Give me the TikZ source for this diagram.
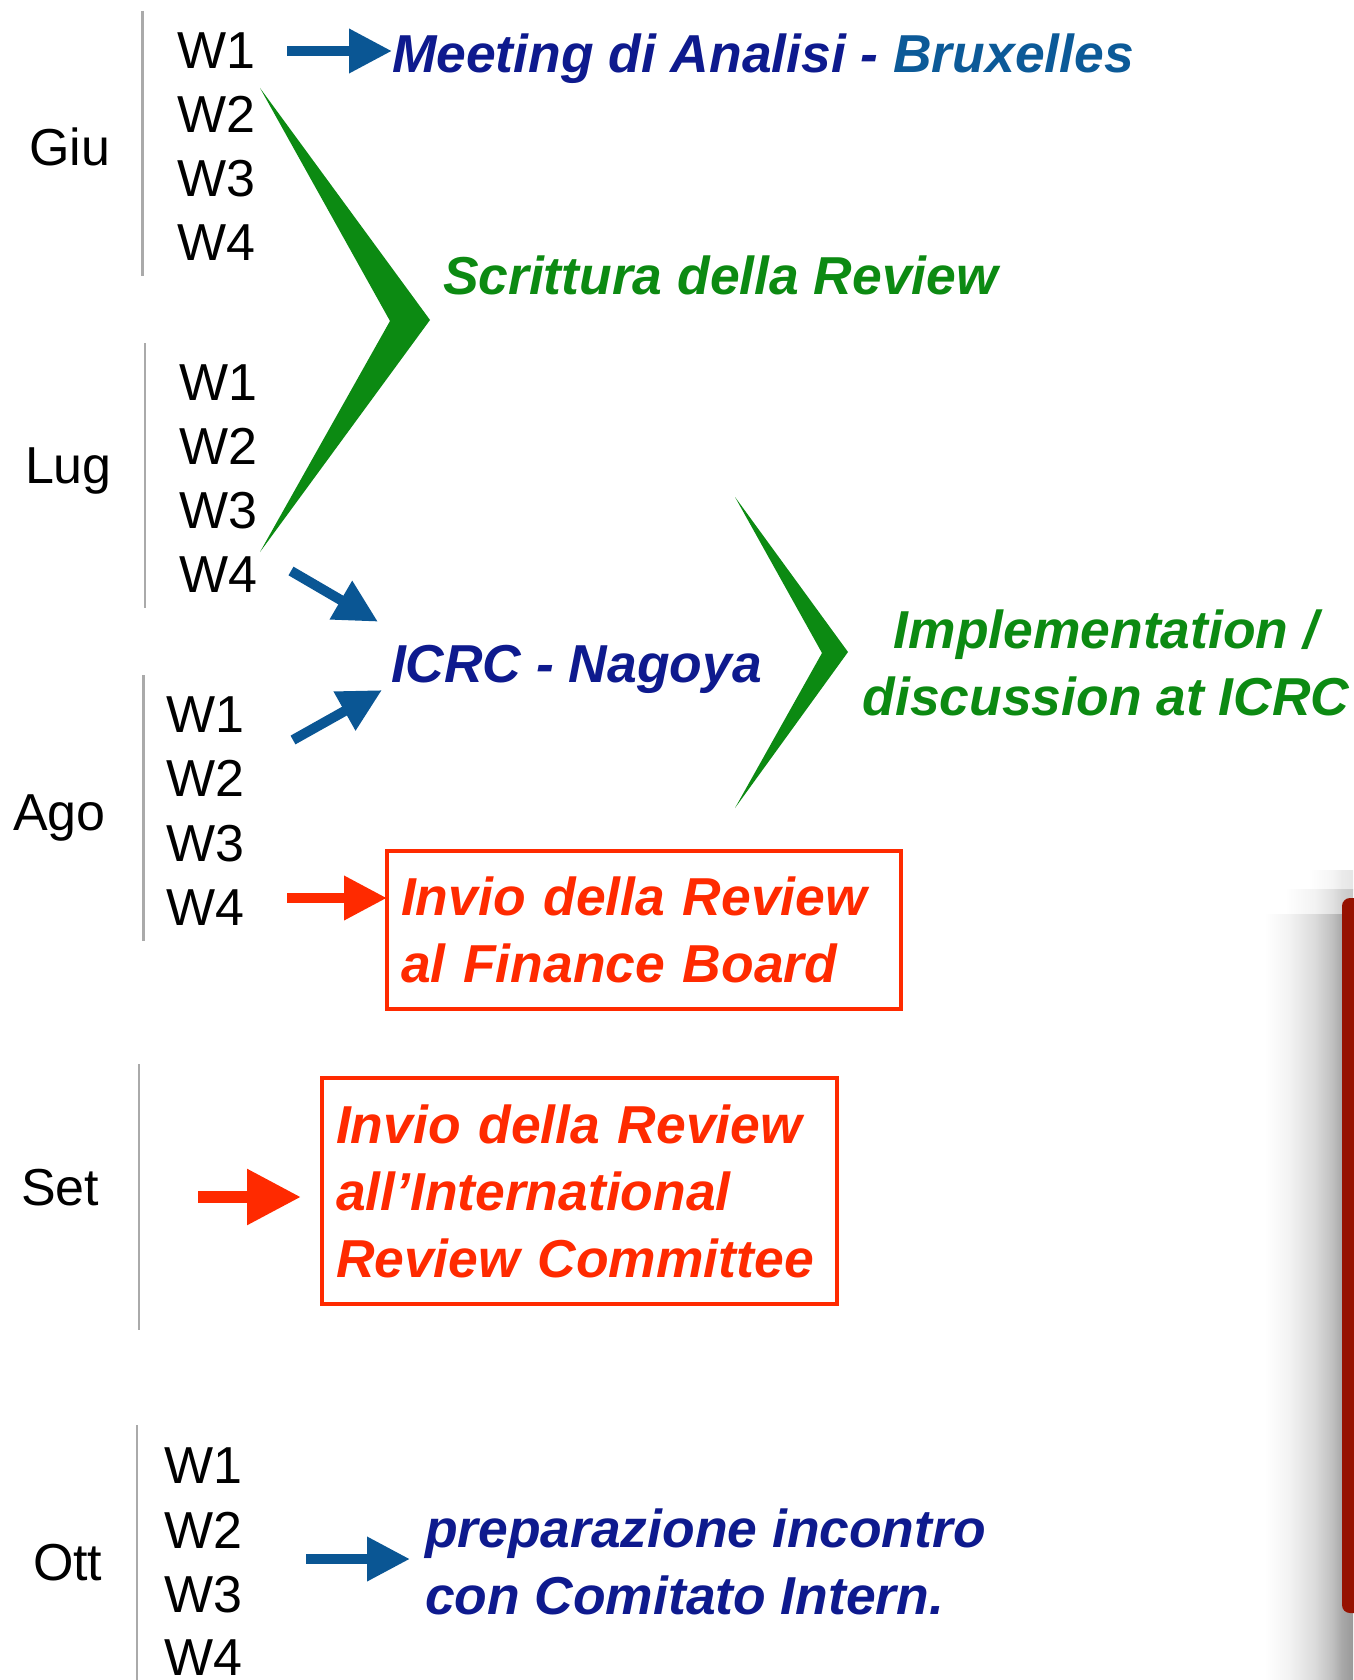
\documentclass[tikz,border=0pt]{standalone}
\usepackage{fontspec}
\setmainfont{Liberation Sans}
\usetikzlibrary{arrows.meta,calc}
\definecolor{dblue}{RGB}{14,26,142}
\definecolor{lblue}{RGB}{12,90,152}
\definecolor{ablue}{RGB}{10,86,148}
\definecolor{vgreen}{RGB}{12,138,18}
\definecolor{vred}{RGB}{255,42,0}
\definecolor{dred}{RGB}{150,18,0}
\definecolor{tick}{RGB}{170,170,170}
\pgfdeclarehorizontalshading{shadowsh}{100bp}{color(0bp)=(white); color(36bp)=(white); color(47bp)=(white!95!black); color(58bp)=(white!86!black); color(66bp)=(white!75!black); color(70bp)=(white!66!black); color(75bp)=(white!60!black); color(100bp)=(white!60!black)}
\pgfdeclarehorizontalshading{shadowlt}{100bp}{color(0bp)=(white); color(45bp)=(white); color(58bp)=(white!95!black); color(66bp)=(white!88!black); color(70bp)=(white!82!black); color(75bp)=(white!78!black); color(100bp)=(white!78!black)}
\pgfdeclarehorizontalshading{shadowvl}{100bp}{color(0bp)=(white); color(55bp)=(white); color(66bp)=(white!96!black); color(70bp)=(white!92!black); color(75bp)=(white!90!black); color(100bp)=(white!90!black)}
\begin{document}
\begin{tikzpicture}[x=1pt,y=-1pt,
  every node/.style={inner sep=0pt, outer sep=0pt, font=\fontsize{52}{67}\selectfont},
  week/.style={anchor=base west},
  month/.style={anchor=base west},
  lab/.style={font=\fontsize{53.4}{67}\selectfont\bfseries\itshape},
  tline/.style={tick, line width=2.5pt},
  barrow/.style={ablue, line width=10pt, -{Triangle[length=43pt,width=42pt]}},
  rarrow/.style={vred, line width=10pt, -{Triangle[length=43pt,width=42pt]}},
  rbox/.style={draw=vred, line width=3.5pt, anchor=north west, align=left, inner xsep=14pt, inner ysep=0pt, text=vred},
  chev/.style={fill=vgreen}]
\fill[white] (0,0) rectangle (1353,1680);
\useasboundingbox (0,0) rectangle (1353,1680);
% right-edge shadow and bar
\shade[shading=shadowvl] (1240,870) rectangle (1353,890);
\shade[shading=shadowlt] (1240,889) rectangle (1353,915);
\shade[shading=shadowsh] (1240,914) rectangle (1353,1680);
\fill[dred, rounded corners=8pt] (1342,898) rectangle (1370,1613);
% month lines
\draw[tline] (142.5,11) -- (142.5,276);
\draw[tline] (145,343) -- (145,608);
\draw[tline] (143.5,675) -- (143.5,941);
\draw[tline] (139,1064) -- (139,1330);
\draw[tline] (137,1425) -- (137,1680);
% months
\node[month] (giu) at (29,166) {Giu};
\node[month] (lug) at (25,483) {Lug};
\node[month] (ago) at (13,830) {Ago};
\node[month] (set) at (21,1205) {Set};
\node[month] (ott) at (33,1580) {Ott};
% weeks
\node[week] (g1) at (177,69) {W1};
\node[week] (g2) at (177,133) {W2};
\node[week] (g3) at (177,197) {W3};
\node[week] (g4) at (177,261) {W4};
\node[week] (l1) at (179,400) {W1};
\node[week] (l2) at (179,464) {W2};
\node[week] (l3) at (179,528) {W3};
\node[week] (l4) at (179,592) {W4};
\node[week] (a1w) at (166,732) {W1};
\node[week] (a2w) at (166,796) {W2};
\node[week] (a3w) at (166,861) {W3};
\node[week] (a4w) at (166,925) {W4};
\node[week] (o1) at (164,1483) {W1};
\node[week] (o2) at (164,1548) {W2};
\node[week] (o3) at (164,1612) {W3};
\node[week] (o4) at (164,1675) {W4};
% chevrons
\fill[chev] (260,88) -- (430,320) -- (260,552) -- (390,321) -- cycle;
\fill[chev] (735,497) -- (848,652) -- (735,808) -- (822,653) -- cycle;
% labels
\node[lab, anchor=base west, text=dblue] (meet) at (392,73) {Meeting di Analisi - \textcolor{lblue}{Bruxelles}};
\node[lab, anchor=base west, text=vgreen] (scr) at (443,294) {Scrittura della Review};
\node[lab, anchor=base west, text=dblue] (icrc) at (391,682) {ICRC - Nagoya};
\node[lab, text=vgreen, align=center, anchor=north] (impl) at (1106,610) {Implementation /\\discussion at ICRC};
\node[rbox, lab, text width=486pt, minimum height=158pt] (box1) at (387,851) {Invio della Review\\al Finance Board};
\node[rbox, lab, text width=487pt, minimum height=226pt] (box2) at (322,1078) {Invio della Review\\all’International\\Review Committee};
\node[lab, text=dblue, align=left, anchor=north west] (prep) at (425,1509) {preparazione incontro\\con Comitato Intern.};
% arrows
\coordinate (s1) at (287,51);
\draw[barrow] (s1) -- (s1 -| meet.west);
\coordinate (s2) at (291,571);
\draw[barrow] (s2) -- ([shift={(-13,-23)}]icrc.north west);
\coordinate (s3) at (293,740);
\draw[barrow] (s3) -- ([shift={(-9,-3)}]icrc.south west);
\coordinate (s4) at (287,898);
\draw[rarrow] (s4) -- (s4 -| box1.west);
\coordinate (s5) at (198,1197);
\draw[vred, line width=12pt, -{Triangle[length=54pt,width=53pt]}] (s5) -- ($(s5 -| box2.west)+(-21,0)$);
\coordinate (s6) at (306,1559);
\draw[barrow] (s6) -- ($(s6 -| prep.west)+(-15,0)$);
\end{tikzpicture}
\end{document}
